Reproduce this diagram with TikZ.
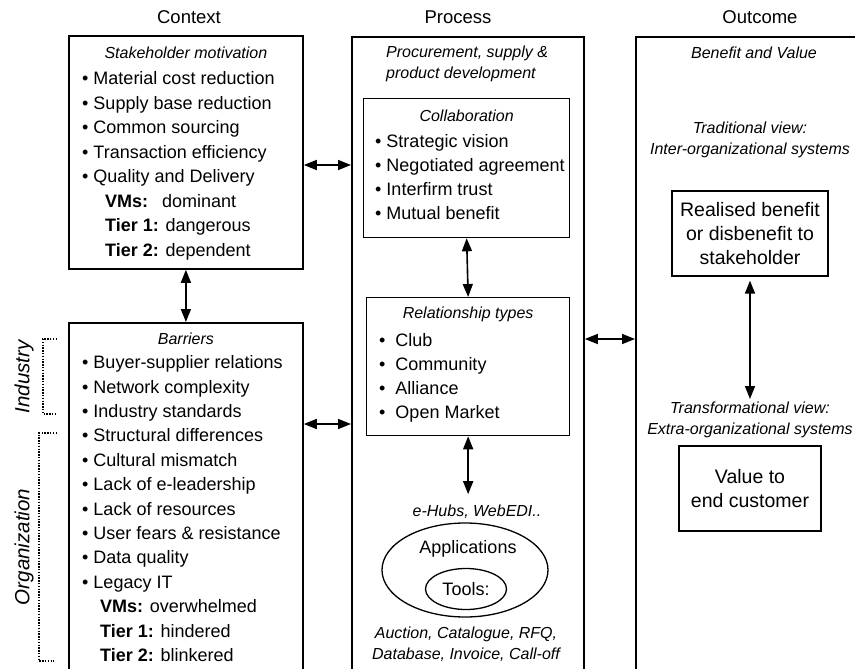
\documentclass[tikz,border=0pt]{standalone}
\usepackage{fontspec}
\setmainfont{Liberation Sans}
\usetikzlibrary{arrows.meta,positioning,shapes.geometric}

\begin{document}
\begin{tikzpicture}[x=1pt,y=-1pt,
  head/.style={font=\fontsize{18.5}{22}\selectfont,anchor=base,inner sep=0},
  frame/.style={draw,line width=1.8pt,anchor=north west,inner sep=0},
  panel/.style={draw,line width=1.3pt,anchor=north west,inner sep=0},
  subhead/.style={font=\fontsize{16}{20.5}\selectfont\itshape,align=center,inner sep=0},
  items/.style={font=\fontsize{18}{24.5}\selectfont,align=left,anchor=north west,inner sep=0},
  result/.style={draw,line width=1.3pt,align=center,font=\fontsize{19.5}{24}\selectfont,inner sep=0},
  side/.style={font=\fontsize{20.5}{24}\selectfont\itshape,rotate=90,inner sep=0},
  span/.style={line width=1.4pt,dash pattern=on 1.4pt off 1.4pt},
  link/.style={line width=1.6pt,{Triangle[length=13pt,width=10pt]}-{Triangle[length=13pt,width=10pt]}},
  ring/.style={draw,ellipse,line width=1.3pt,inner sep=0}
]
\useasboundingbox (0,0) rectangle (855,669);
\clip (0,0) rectangle (855,669);

% column headings
\node[head] (hctx) at (189,23.7) {Context};
\node[head] (hproc) at (458,23.7) {Process};
\node[head] (hout) at (760,23.7) {Outcome};

% context column
\node[frame,minimum width=234pt,minimum height=233pt] (motiv) at (68,35) {};
\node[subhead,below=11.3pt of motiv.north] (motivhd) {Stakeholder motivation};
\node[items] (motivlist) at (82,71.5)
  {\textbullet{} Material cost reduction\\
   \textbullet{} Supply base reduction\\
   \textbullet{} Common sourcing\\
   \textbullet{} Transaction efficiency\\
   \textbullet{} Quality and Delivery\\
   \hspace*{23pt}\makebox[57pt][l]{\textbf{VMs:}}dominant\\
   \hspace*{23pt}\textbf{Tier 1:} dangerous\\
   \hspace*{23pt}\textbf{Tier 2:} dependent};

\node[frame,minimum width=234pt,minimum height=400pt] (barr) at (68,322) {};
\node[subhead,below=10.3pt of barr.north] (barrhd) {Barriers};
\node[items,font=\fontsize{18}{24.4}\selectfont] (barrlist) at (82,355.5)
  {\textbullet{} Buyer-supplier relations\\
   \textbullet{} Network complexity\\
   \textbullet{} Industry standards\\
   \textbullet{} Structural differences\\
   \textbullet{} Cultural mismatch\\
   \textbullet{} Lack of e-leadership\\
   \textbullet{} Lack of resources\\
   \textbullet{} User fears \& resistance\\
   \textbullet{} Data quality\\
   \textbullet{} Legacy IT\\
   \hspace*{18pt}\textbf{VMs:} overwhelmed\\
   \hspace*{18pt}\textbf{Tier 1:} hindered\\
   \hspace*{18pt}\textbf{Tier 2:} blinkered};
\draw[link] (motiv.south) -- (barr.north);

% industry / organization brackets
\node[side] (ind) at (24,377) {Industry};
\node[side] (org) at (24,547) {Organization};
\draw[span] (57,339) -| (43,414) -- (57,414);
\draw[span] (57,433) -| (39,661) -- (54,661);

% process column
\node[frame,minimum width=232pt,minimum height=700pt] (proc) at (351,36) {};
\node[subhead,align=left,anchor=north west] (prochd) at (386,46) {Procurement, supply \&\\product development};
\node[panel,minimum width=206pt,minimum height=139pt] (collab) at (363,98) {};
\node[subhead,below=11.3pt of collab.north] (collabhd) {Collaboration};
\node[items,font=\fontsize{18}{24}\selectfont] (collablist) at (375,134.5)
  {\textbullet{} Strategic vision\\
   \textbullet{} Negotiated agreement\\
   \textbullet{} Interfirm trust\\
   \textbullet{} Mutual benefit};
\node[panel,minimum width=203pt,minimum height=138pt] (rel) at (366,297) {};
\node[subhead,below=9.3pt of rel.north] (relhd) {Relationship types};
\node[items,font=\fontsize{18}{24}\selectfont] (rellist) at (379,333.5)
  {\textbullet\hspace{10pt}Club\\
   \textbullet\hspace{10pt}Community\\
   \textbullet\hspace{10pt}Alliance\\
   \textbullet\hspace{10pt}Open Market};
\draw[link] (collab.south) -- (rel.north);
\node[subhead,anchor=base] (hubs) at (477,516) {e-Hubs, WebEDI..};
\draw[link,shorten >=10pt] (rel.south) -- (rel.south |- hubs.north);
\node[ring,minimum width=166pt,minimum height=94pt] (apps) at (465,570) {};
\node[anchor=base,font=\fontsize{18}{22}\selectfont,inner sep=0] (appshd) at (468,553.5) {Applications};
\node[ring,minimum width=81pt,minimum height=41pt,font=\fontsize{18}{22}\selectfont] (tools) at (466,589) {Tools:};
\node[subhead,anchor=north] (toolnames) at (466,627) {Auction, Catalogue, RFQ,\\Database, Invoice, Call-off};

% outcome column
\node[frame,minimum width=240pt,minimum height=700pt] (outc) at (635,36) {};
\node[subhead,anchor=base] (outchd) at (754,59) {Benefit and Value};
\node[subhead,anchor=north] (trad) at (750,122) {Traditional view:\\Inter-organizational systems};
\node[result,minimum width=156pt,minimum height=85pt] (realised) at (750,233.5)
  {Realised benefit\\or disbenefit to\\stakeholder};
\node[subhead,anchor=north] (transf) at (750,402) {Transformational view:\\Extra-organizational systems};
\node[result,minimum width=142pt,minimum height=85pt] (value) at (750,488.5)
  {Value to\\end customer};
\draw[link,shorten <=4pt,shorten >=3pt] (realised.south) -- (transf.north);

% links between columns
\coordinate (row1) at (0,165);
\coordinate (row2) at (0,424);
\coordinate (row3) at (0,339);
\draw[link] (motiv.east |- row1) -- (proc.west |- row1);
\draw[link] (barr.east |- row2) -- (proc.west |- row2);
\draw[link] (proc.east |- row3) -- (outc.west |- row3);
\end{tikzpicture}
\end{document}
